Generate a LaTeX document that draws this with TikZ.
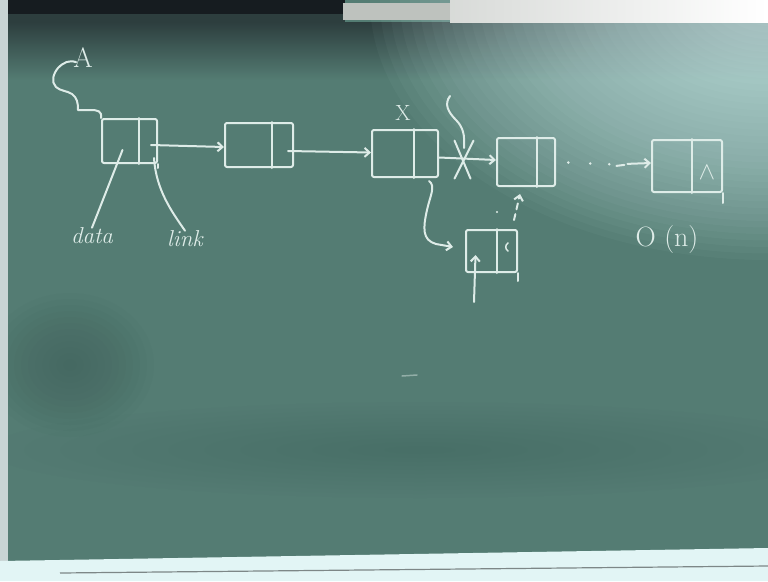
\documentclass[tikz,border=0pt]{standalone}
\usetikzlibrary{arrows.meta,calc}
\definecolor{board}{RGB}{84,124,115}
\definecolor{boarddark}{RGB}{60,92,86}
\definecolor{glare}{RGB}{222,253,253}
\definecolor{topdark}{RGB}{22,28,32}
\definecolor{topgrey}{RGB}{45,62,62}
\definecolor{bargrey}{RGB}{190,194,190}
\definecolor{chalk}{RGB}{222,236,232}
\definecolor{tray}{RGB}{226,245,245}
\definecolor{trayline}{RGB}{125,135,135}
\definecolor{edgestrip}{RGB}{200,212,212}
\begin{document}
\begin{tikzpicture}[x=1pt,y=-1pt,
  chalkline/.style={draw=chalk,line width=2pt,line cap=round,line join=round},
  cbox/.style={chalkline,rectangle,inner sep=0pt,rounded corners=2pt},
  ptr/.style={chalkline,-{Straight Barb[length=5pt,width=9pt]}},
  lbl/.style={text=chalk,inner sep=0pt,font=\fontsize{23}{23}\selectfont\itshape},
  ulbl/.style={text=chalk,inner sep=0pt}]
\useasboundingbox (0,0) rectangle (768,581);
% ---- board background ----
\fill[board] (0,0) rectangle (768,581);
\shade[top color=topgrey, bottom color=board] (8,22) rectangle (768,80);
\foreach \i in {1,...,12}
  \fill[boarddark, opacity=0.05] (70,365) ellipse [x radius={7*\i}, y radius={6*\i}];
\foreach \i in {1,...,12}
  \fill[boarddark, opacity=0.03] (420,450) ellipse [x radius={36*\i}, y radius={4*\i}];
\foreach \i in {1,...,40}
  \fill[glare, opacity=0.035] (770,0) ellipse [x radius={10*\i}, y radius={6.5*\i}];
\fill[topdark] (8,0) rectangle (345,14);
\fill[topgrey] (8,14) rectangle (345,22);
\fill[bargrey] (343,3) rectangle (450,20);
\shade[left color=bargrey!60!white, right color=white] (450,0) rectangle (768,22);
\fill[edgestrip] (0,0) rectangle (8,565);
\fill[tray] (0,561) -- (768,548) -- (768,581) -- (0,581) -- cycle;
\draw[trayline, line width=1.2pt] (60,573) -- (768,566);
% ---- nodes ----
\node[ulbl,font=\fontsize{28}{28}\selectfont] (A) at (83,58) {A};
\node[cbox,minimum width=55pt,minimum height=44pt] (b1) at (129.5,141) {};
\node[cbox,minimum width=68pt,minimum height=44pt] (b2) at (259,145) {};
\node[cbox,minimum width=66pt,minimum height=47pt] (b3) at (405,153.5) {};
\node[cbox,minimum width=58pt,minimum height=48pt] (b4) at (526,162) {};
\node[cbox,minimum width=51pt,minimum height=42pt] (b5) at (491.5,251) {};
\node[cbox,minimum width=70pt,minimum height=52pt] (b6) at (687,166) {};
\foreach \n/\d in {b1/38,b2/48,b3/43,b4/41,b5/32,b6/41}
  \draw[chalkline] ($(\n.north west)+(\d,0)$) -- ($(\n.south west)+(\d,0)$);
\draw[chalkline] (b6.south east) -- ++(0,10);
\draw[chalkline] (b5.south east) -- ++(0,8);
\draw[chalkline] (b1.south east) -- ++(0,4);
\node[lbl] (data) at (92,236) {data};
\node[lbl] (link) at (185,239) {link};
\node[ulbl,font=\fontsize{22}{22}\selectfont] (X) at (403,113) {X};
\node[ulbl,font=\fontsize{24}{24}\selectfont] (nil) at (707,173) {$\wedge$};
\node[ulbl,font=\fontsize{28}{28}\selectfont] (On) at (667,240) {O (n)};
% ---- connectors ----
\draw[chalkline] ($(A.south west)+(3,-6)$) .. controls (69,60) and (64,62) .. (58,68)
  .. controls (53,74) and (51,82) .. (56,87) .. controls (60,91) and (68,91) .. (72,94)
  .. controls (77,98) and (78,102) .. (78,110) -- (90,110)
  .. controls (98,110) and (102,111) .. (b1.north west);
\draw[chalkline] ($(b1.center)+(-7,9)$) -- (data.north);
\draw[chalkline] ($(b1.south east)+(-4,-6)$) .. controls (156,190) and (172,212) .. (link.north);
\draw[ptr] ($(b1.east)+(-7,4)$) -- ($(b2.west)+(0,2)$);
\draw[ptr] ($(b2.east)+(-6,6)$) -- ($(b3.west)+(0,-1)$);
\draw[ptr] ($(b3.east)+(0,4)$) -- ($(b4.west)+(0,-2)$);
\path ($(b3.east)+(0,4)$) -- ($(b4.west)+(0,-2)$) coordinate[pos=0.43] (xm);
\draw[chalkline] ($(xm)+(-9,-18)$) -- ($(xm)+(7,20)$);
\draw[chalkline] ($(xm)+(10,-18)$) -- ($(xm)+(-9,20)$);
\draw[chalkline] (450,96) .. controls (444,104) and (448,112) .. (456,120)
  .. controls (463,127) and (465,135) .. (464,148);
\draw[ptr] ($(b3.south east)+(-10,3)$) .. controls (436,186) and (430,196) .. (427,210)
  .. controls (423,228) and (422,240) .. (436,244) -- ($(b5.west)+(-12,-4)$);
\draw[ptr] ($(b5.south west)+(9,29)$) -- ($(b5.center)+(-16,4)$);
\draw[ptr, dash pattern=on 6pt off 5pt] ($(b5.north east)+(-4,-9)$) -- ($(b4.south)+(-6,7)$);
\draw[chalkline, line width=1.5pt] ($(b5.east)+(-10,-8)$) .. controls +(-3,2) and +(-3,-2) .. ++(0,8);
\fill[chalk] (497,212) circle (1.2pt);
\path (b4.east) -- (b6.west) coordinate[pos=0.13] (d1) coordinate[pos=0.36] (d2)
  coordinate[pos=0.56] (d3) coordinate[pos=0.72] (d4);
\foreach \d in {d1,d2,d3} \fill[chalk] (\d) circle (1.4pt);
\draw[chalkline] ($(d4)+(-8,1)$) -- ($(d4)+(0,0)$);
\draw[ptr] ($(d4)+(3,-1)$) -- ($(b6.west)+(0,-3)$);
\draw[chalk, line width=1.5pt, opacity=0.45, line cap=round] (402,376) -- (417,375);
\end{tikzpicture}
\end{document}
